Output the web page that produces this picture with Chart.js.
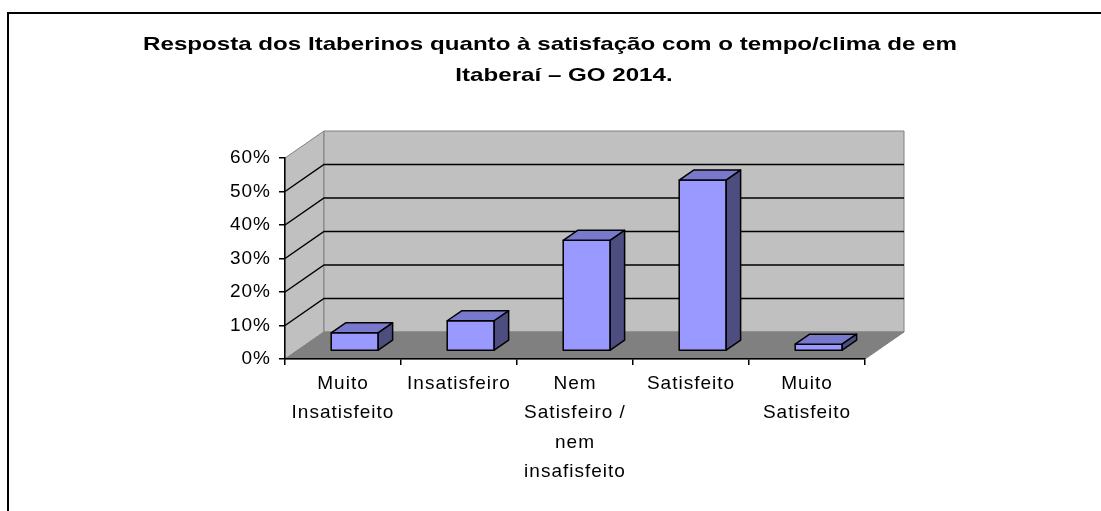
<!DOCTYPE html>
<html>
<head>
<meta charset="utf-8">
<script src="https://cdn.jsdelivr.net/npm/chart.js@4.4.1/dist/chart.umd.min.js"></script>
<style>
  html, body { margin: 0; padding: 0; background: #fff; }
  #wrap { width: 1101px; height: 511px; }
</style>
</head>
<body>
<div id="wrap"><canvas id="chart"></canvas></div>
<script>
// Chart data
const titleLines = [
  "Resposta dos Itaberinos quanto à satisfação com o tempo/clima de em",
  "Itaberaí – GO 2014."
];
const categories = [
  ["Muito", "Insatisfeito"],
  "Insatisfeiro",
  ["Nem", "Satisfeiro /", "nem", "insafisfeito"],
  "Satisfeito",
  ["Muito", "Satisfeito"]
];
const percentValues = [5.4, 9, 33, 51, 2];
const yTicks = [0, 10, 20, 30, 40, 50, 60];

// 3D look
const DEPTH = { dx: 39, dy: -27 };
const barFront = 0.3;
const barBack = 0.67;
const FONT = '"Liberation Sans", Arial, sans-serif';

function poly(ctx, pts, fill, stroke, lw) {
  ctx.beginPath();
  ctx.moveTo(pts[0][0], pts[0][1]);
  for (let i = 1; i < pts.length; i++) ctx.lineTo(pts[i][0], pts[i][1]);
  ctx.closePath();
  if (fill) { ctx.fillStyle = fill; ctx.fill(); }
  if (stroke) { ctx.strokeStyle = stroke; ctx.lineWidth = lw || 1; ctx.stroke(); }
}

const spacing = {
  id: "spacing",
  beforeLayout(chart) { chart.ctx.letterSpacing = "1px"; },
  beforeDraw(chart) { chart.ctx.letterSpacing = "1px"; }
};

// walls, floor and gridlines behind the bars
const walls = {
  id: "walls",
  beforeDraw(chart) {
    const ctx = chart.ctx;
    const { left, right, top, bottom } = chart.chartArea;
    const dx = DEPTH.dx, dy = DEPTH.dy;
    const y = chart.scales.y;
    ctx.save();
    // outer frame
    ctx.strokeStyle = "#000";
    ctx.lineWidth = 2;
    ctx.beginPath();
    ctx.moveTo(8, 530);
    ctx.lineTo(8, 13);
    ctx.lineTo(1110, 13);
    ctx.stroke();

    poly(ctx, [[left, top], [left + dx, top + dy], [left + dx, bottom + dy], [left, bottom]], "#c0c0c0", "#808080");
    poly(ctx, [[left + dx, top + dy], [right + dx, top + dy], [right + dx, bottom + dy], [left + dx, bottom + dy]], "#c0c0c0", "#808080");
    poly(ctx, [[left, bottom], [left + dx, bottom + dy], [right + dx, bottom + dy], [right, bottom]], "#808080", "#808080");

    ctx.strokeStyle = "#000";
    ctx.lineWidth = 1.5;
    yTicks.slice(1, -1).forEach(v => {
      const py = y.getPixelForValue(v);
      ctx.beginPath();
      ctx.moveTo(left, py);
      ctx.lineTo(left + dx, py + dy);
      ctx.lineTo(right + dx, py + dy);
      ctx.stroke();
    });
    ctx.restore();
  }
};

// 3D boxes from the bar elements
const boxes = {
  id: "boxes",
  afterDatasetsDraw(chart) {
    const ctx = chart.ctx;
    const meta = chart.getDatasetMeta(0);
    const ox = DEPTH.dx * barFront, oy = DEPTH.dy * barFront;
    const bx = DEPTH.dx * (barBack - barFront), by = DEPTH.dy * (barBack - barFront);
    ctx.save();
    ctx.lineJoin = "round";
    meta.data.forEach(bar => {
      const { x, y, base, width } = bar.getProps(["x", "y", "base", "width"], true);
      const x0 = x - width / 2 + ox, x1 = x + width / 2 + ox;
      const yt = y + oy, yb = base + oy;
      poly(ctx, [[x0, yt], [x1, yt], [x1, yb], [x0, yb]], "#9999ff", "#000", 1.5);
      poly(ctx, [[x0, yt], [x0 + bx, yt + by], [x1 + bx, yt + by], [x1, yt]], "#7878cc", "#000", 1.5);
      poly(ctx, [[x1, yt], [x1 + bx, yt + by], [x1 + bx, yb + by], [x1, yb]], "#4d4d80", "#000", 1.5);
    });
    ctx.restore();
  }
};

// title, slightly wide like the original
const wideTitle = {
  id: "wideTitle",
  afterDraw(chart) {
    const ctx = chart.ctx;
    const spots = [[550, 50], [564, 81]];
    ctx.save();
    ctx.letterSpacing = "0px";
    ctx.font = "bold 19px " + FONT;
    ctx.fillStyle = "#000";
    ctx.textAlign = "center";
    ctx.textBaseline = "alphabetic";
    titleLines.forEach((t, i) => {
      ctx.save();
      ctx.translate(spots[i][0], spots[i][1]);
      ctx.scale(1.27, 1);
      ctx.fillText(t, 0, 0);
      ctx.restore();
    });
    ctx.restore();
  }
};

new Chart(document.getElementById("chart"), {
  type: "bar",
  data: {
    labels: categories,
    datasets: [{
      data: percentValues,
      backgroundColor: "rgba(0,0,0,0)",
      borderWidth: 0,
      barPercentage: 0.405,
      categoryPercentage: 1
    }]
  },
  options: {
    responsive: true,
    maintainAspectRatio: false,
    animation: false,
    events: [],
    layout: { padding: { left: 225, right: 236, top: 158, bottom: 22 } },
    plugins: {
      legend: { display: false },
      title: { display: false },
      tooltip: { enabled: false }
    },
    scales: {
      x: {
        afterFit(scale) { scale.height = 130; },
        border: { display: true, color: "#000", width: 1.5 },
        grid: { offset: true, drawOnChartArea: false, drawTicks: true, tickLength: 6, color: "#000", lineWidth: 1.5 },
        ticks: {
          color: "#000",
          padding: 4,
          maxRotation: 0,
          autoSkip: false,
          font: { family: FONT, size: 19, lineHeight: 1.55 }
        }
      },
      y: {
        min: 0,
        max: 60,
        afterFit(scale) { scale.width = 60; },
        afterBuildTicks(scale) { scale.ticks = yTicks.map(v => ({ value: v })); },
        border: { display: true, color: "#000", width: 1.5 },
        grid: { drawOnChartArea: false, drawTicks: true, tickLength: 6, color: "#000", lineWidth: 1.5 },
        ticks: {
          color: "#000",
          padding: 8,
          callback: v => v + "%",
          font: { family: FONT, size: 19 }
        }
      }
    }
  },
  plugins: [spacing, walls, boxes, wideTitle]
});
</script>
</body>
</html>
